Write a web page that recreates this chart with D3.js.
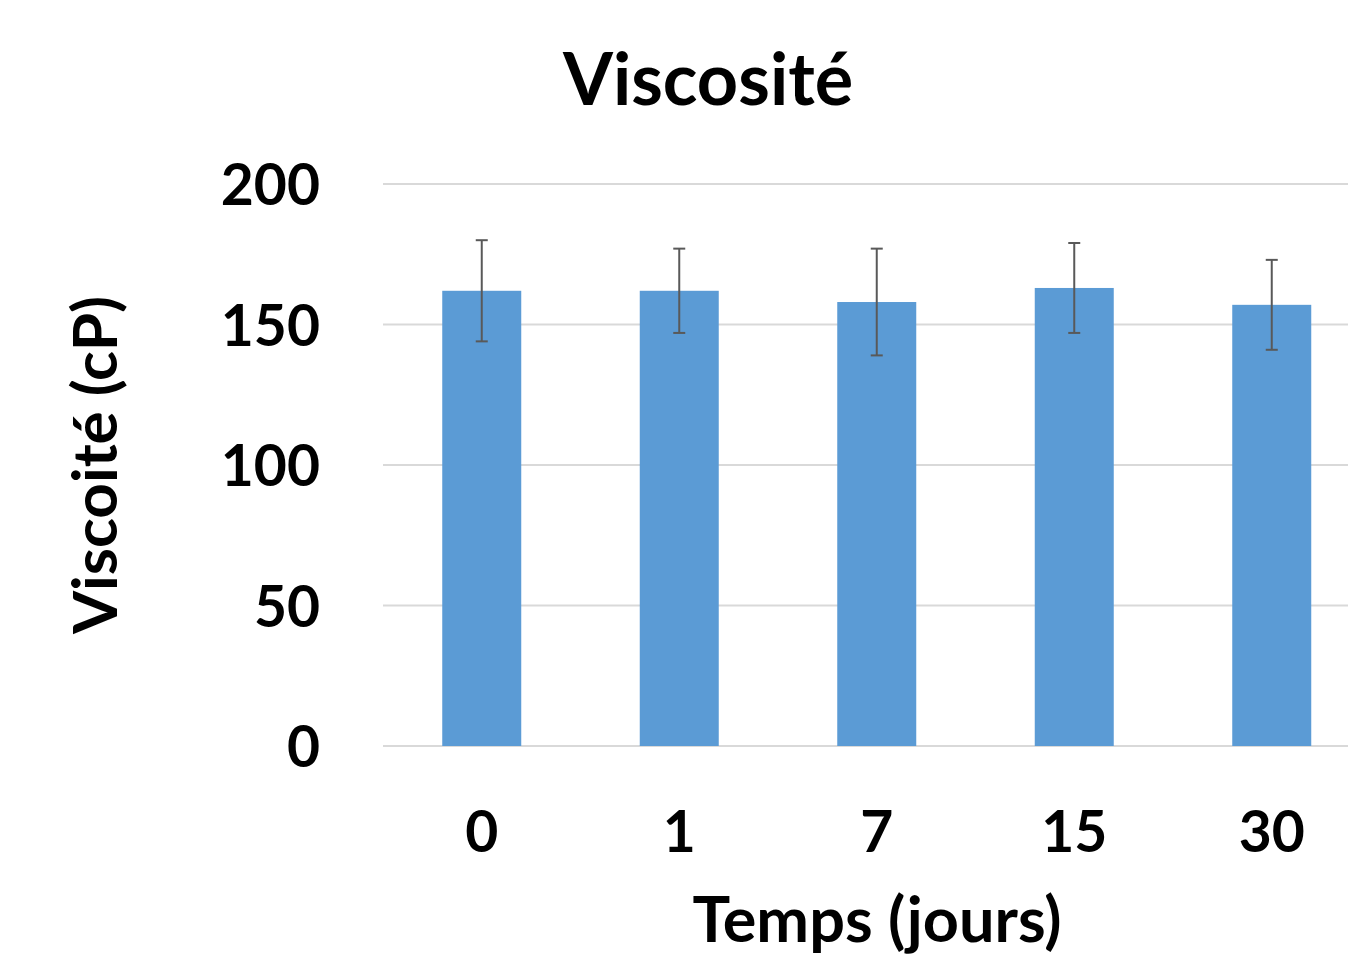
<!DOCTYPE html>
<html><head><meta charset="utf-8">
<script src="https://cdn.jsdelivr.net/npm/d3@7"></script>
<style>body{margin:0;background:#fff;} svg{display:block;} text{font-family:Lato,"Open Sans",sans-serif;font-weight:bold;fill:#000;}</style>
</head><body>
<svg id="c" width="1348" height="961"></svg>
<script>
const categories = ["0","1","7","15","30"];
const values = [162,162,158,163,157];
const errors = [18,15,19,16,16];
const yTicks = [0,50,100,150,200];

(function(){
const svg = d3.select("#c");
const L = 383, R = 1370.5, T = 184, B = 746;
const x = d3.scaleBand().domain(categories).range([L,R]).paddingInner(0.6).paddingOuter(0.3);
const y = d3.scaleLinear().domain([0,200]).range([B,T]);

svg.append("g").selectAll("line").data(yTicks).join("line")
  .attr("x1",L).attr("x2",1348).attr("y1",d=>y(d)).attr("y2",d=>y(d))
  .attr("stroke","#d9d9d9").attr("stroke-width",2);

const yAxis = d3.axisLeft(y).tickValues(yTicks).tickSize(0).tickPadding(0);
const ga = svg.append("g").attr("transform",`translate(320,0)`).call(yAxis);
ga.select(".domain").remove();
ga.selectAll("text").attr("font-size",57).attr("font-family","Lato").attr("font-weight","bold").attr("fill","#000").attr("dy","0.36em");

svg.append("g").selectAll("rect").data(values).join("rect")
  .attr("x",(d,i)=>x(categories[i])).attr("width",x.bandwidth())
  .attr("y",d=>y(d)).attr("height",d=>y(0)-y(d)).attr("fill","#5b9bd5");

const eg = svg.append("g").attr("stroke","#595959").attr("stroke-width",2);
values.forEach((v,i)=>{
  const cx = x(categories[i]) + x.bandwidth()/2;
  eg.append("line").attr("x1",cx).attr("x2",cx).attr("y1",y(v+errors[i])).attr("y2",y(v-errors[i]));
  eg.append("line").attr("x1",cx-6).attr("x2",cx+6).attr("y1",y(v+errors[i])).attr("y2",y(v+errors[i]));
  eg.append("line").attr("x1",cx-6).attr("x2",cx+6).attr("y1",y(v-errors[i])).attr("y2",y(v-errors[i]));
});

const xAxis = d3.axisBottom(x).tickSize(0).tickPadding(0);
const gx = svg.append("g").attr("transform",`translate(0,852)`).call(xAxis);
gx.select(".domain").remove();
gx.selectAll("text").attr("font-size",57).attr("font-family","Lato").attr("font-weight","bold").attr("fill","#000").attr("dy",0);

svg.append("text").attr("x",708).attr("y",105).attr("text-anchor","middle").attr("font-size",72).text("Viscosité");
svg.append("text").attr("x",877).attr("y",942).attr("text-anchor","middle").attr("font-size",63).text("Temps (jours)");
svg.append("text").attr("transform","translate(117,465) rotate(-90)").attr("text-anchor","middle").attr("font-size",62).text("Viscoité (cP)");
})();
</script>
</body></html>
